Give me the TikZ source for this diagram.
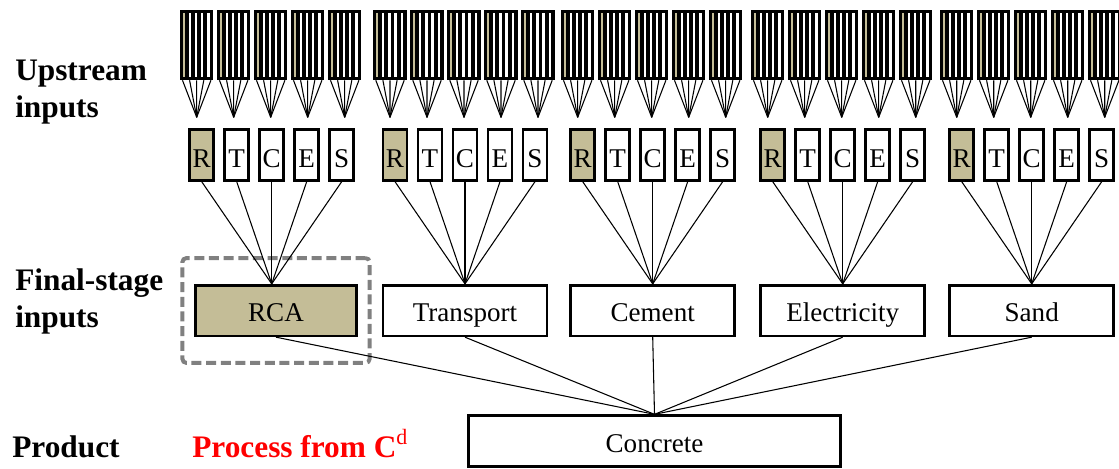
\documentclass[tikz,border=0pt]{standalone}
\usepackage{fontspec}
\setmainfont{Liberation Serif}
\usetikzlibrary{positioning,calc,fit}
\definecolor{tan}{HTML}{C4BD97}

\begin{document}
\begin{tikzpicture}[
      x=0.75pt, y=-0.75pt,
      every node/.style={font=\fontsize{20.3}{24}\selectfont},
      box/.style={draw, line width=2pt, minimum width=123pt, minimum height=38pt,
                  inner sep=0pt, fill=white, text height=18.5pt, text depth=2pt},
      letter/.style={draw, line width=2pt, minimum width=18pt, minimum height=38pt,
                  inner sep=0pt, text height=19pt, text depth=1pt},
      upblk/.style={fill=black, minimum width=25pt, minimum height=52.5pt, inner sep=0pt,
                  path picture={
                    \foreach \c [count=\n from 0] in {tan,white,white,white,white}
                      \fill[\c] ($(path picture bounding box.north west)+(2.5+6.2*\n,3)$)
                        rectangle ++(2.3,64);
                  }},
      ln/.style={line width=0.8pt},
      dashbox/.style={draw=gray, line width=3pt, dash pattern=on 7.5pt off 3.5pt,
                  rounded corners=3pt},
      lbl/.style={font=\fontsize{23.5}{27.75}\selectfont\bfseries, align=left,
                  anchor=base west, inner sep=0pt}
    ]
    \useasboundingbox (0,0) rectangle (1119,468);

    % row labels
    \node[lbl] (up)   at (15,117) {Upstream\\inputs};
    \node[lbl] (fs)   at (15,327) {Final-stage\\inputs};
    \node[lbl] (prod) at (12,457) {Product};
    \node[lbl, text=red] (proc) at (192,457) {Process from C{\mdseries\textsuperscript{d}}};

    % upstream blocks and R/T/C/E/S boxes
    \foreach \ux [count=\g] in {180,373.3,561,751,940}{
      \foreach \lt/\c [count=\k from 0] in {R/tan,T/white,C/white,E/white,S/white}{
        \node[upblk] (u\g\k) at (\ux+16.7+37*\k,45) {};
        \coordinate (t\g\k) at ($(u\g\k.south)+(0,37)$);
        \foreach \f in {0.08,0.29,0.5,0.71,0.92}
          \draw[ln] ($(u\g\k.south west)!\f!(u\g\k.south east)$) -- (t\g\k);
        \node[letter, fill=\c] (l\g\k) at (\ux+21.7+35*\k,155) {\lt};
      }
    }

    % final-stage inputs
    \node[box, minimum width=121pt, fill=tan] (rca) at (276,310.5) {RCA};
    \node[box] (transport)   at (465,310.5)    {Transport};
    \node[box] (cement)      at (652.7,310.5)  {Cement};
    \node[box] (electricity) at (842.7,310.5)  {Electricity};
    \node[box] (sand)        at (1031.7,310.5) {Sand};
    \node[dashbox, fit=(rca), inner xsep=8.7pt, inner ysep=19.3pt] (sel) {};

    \foreach \g/\fn in {1/rca,2/transport,3/cement,4/electricity,5/sand}
      \foreach \k in {0,...,4}
        \draw[ln] (l\g\k.south) -- (l\g2.south |- \fn.north);

    % product
    \node[box, minimum width=279pt] (concrete) at (654.5,441) {Concrete};
    \foreach \fn in {rca,transport,cement,electricity,sand}
      \draw[ln] (\fn.south) -- (concrete.north);
  \end{tikzpicture}
\end{document}
